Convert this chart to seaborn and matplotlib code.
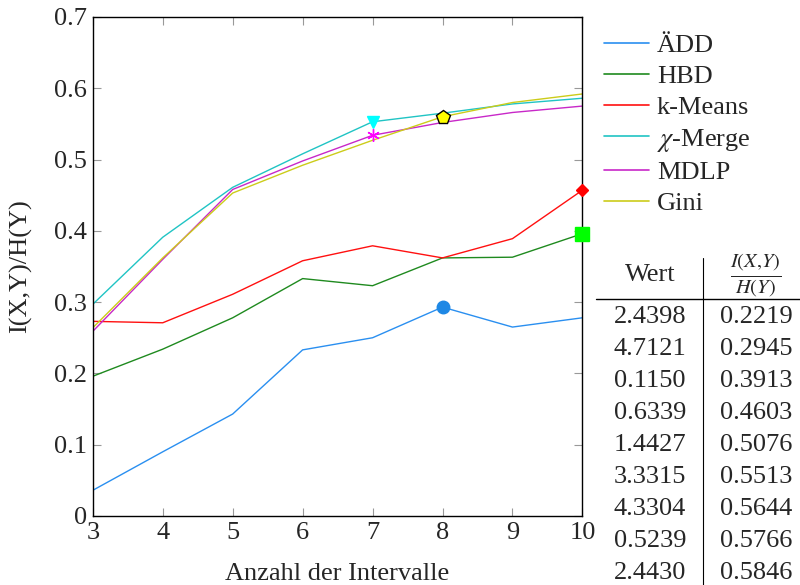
import numpy as np
import pandas as pd
import seaborn as sns
import matplotlib.pyplot as plt
from matplotlib.lines import Line2D

# data
intervals = [3, 4, 5, 6, 7, 8, 9, 10]
methods = ["ÄDD", "HBD", "k-Means", r"$\chi$-Merge", "MDLP", "Gini"]
add_vals = [0.036, 0.090, 0.143, 0.233, 0.250, 0.293, 0.265, 0.278]
hbd_vals = [0.196, 0.234, 0.278, 0.333, 0.323, 0.362, 0.363, 0.396]
kmeans_vals = [0.273, 0.271, 0.311, 0.358, 0.379, 0.362, 0.389, 0.457]
chi_vals = [0.297, 0.391, 0.461, 0.508, 0.553, 0.565, 0.578, 0.586]
mdlp_vals = [0.259, 0.360, 0.458, 0.498, 0.534, 0.552, 0.566, 0.575]
gini_vals = [0.264, 0.362, 0.453, 0.492, 0.527, 0.560, 0.580, 0.592]

# best point of each method (x position)
best_x = [8, 10, 10, 7, 7, 8]

# table on the right
wert = ["2.4398", "4.7121", "0.1150", "0.6339", "1.4427", "3.3315", "4.3304", "0.5239", "2.4430"]
ratio = ["0.2219", "0.2945", "0.3913", "0.4603", "0.5076", "0.5513", "0.5644", "0.5766", "0.5846"]

line_colors = ["#2a8ff0", "#1f8a1f", "#ff1010", "#20c4c4", "#c828c8", "#cccc1a"]
mark_colors = ["#1e88e5", "#00ff00", "#ff0000", "#00ffff", "#ff00ff", "#ffff00"]
mark_styles = ["o", "s", "D", "v", "*", "p"]

all_vals = [add_vals, hbd_vals, kmeans_vals, chi_vals, mdlp_vals, gini_vals]
df = pd.DataFrame({
    "x": intervals * len(methods),
    "y": sum(all_vals, []),
    "method": sum([[m] * len(intervals) for m in methods], []),
})

sns.set_style("ticks")
plt.rcParams["font.family"] = ["Liberation Serif", "DejaVu Serif"]
plt.rcParams["mathtext.fontset"] = "stix"
FS = 19

fig = plt.figure(figsize=(8, 5.85), dpi=100)
ax = fig.add_axes([0.116, 0.118, 0.612, 0.853])

sns.lineplot(data=df, x="x", y="y", hue="method", palette=dict(zip(methods, line_colors)),
             linewidth=1.0, ax=ax, legend=False)

# highlight markers
for m, bx, mc, ms in zip(methods, best_x, mark_colors, mark_styles):
    pt = df[(df.method == m) & (df.x == bx)]
    if ms == "*":
        ax.plot(pt.x, pt.y, marker=(6, 2, 0), color=mc, markersize=9, mew=1.0, linestyle="none", clip_on=False, zorder=5)
    else:
        ec = "black" if ms == "p" else mc
        size = {"o": 9, "s": 10, "D": 6, "v": 8, "p": 10}[ms]
        ax.plot(pt.x, pt.y, marker=ms, color=mc, markeredgecolor=ec, markersize=size, mew=1.0,
                linestyle="none", clip_on=False, zorder=5)

ax.set_xlim(3, 10)
ax.set_ylim(0, 0.7)
ax.set_xticks(intervals)
ax.set_yticks(np.arange(0, 0.71, 0.1))
ax.set_yticklabels(["0"] + ["%.1f" % v for v in np.arange(0.1, 0.71, 0.1)])
ax.tick_params(direction="in", top=True, right=True, length=6, color="#999999", labelsize=FS, pad=4)
for s in ax.spines.values():
    s.set_color("black")
    s.set_linewidth(1.0)
ax.set_xlabel("Anzahl der Intervalle", fontsize=FS, labelpad=14)
ax.set_ylabel("I(X,Y)/H(Y)", fontsize=FS, labelpad=16)

handles = [Line2D([0], [0], color=c, lw=1.2) for c in line_colors]
fig.legend(handles, methods, loc="upper left", bbox_to_anchor=(0.742, 0.96), frameon=False,
           prop={"family": ["Liberation Serif", "DejaVu Serif"], "size": FS},
           handlelength=1.7, handletextpad=0.3, labelspacing=0.28, borderaxespad=0)

# table
col1_x, col2_x = 0.8125, 0.945
fig.text(col1_x, 1 - 275 / 585, "Wert", ha="center", va="center", fontsize=FS)
fig.text(col2_x, 1 - 276 / 585, r"$\frac{I(X{,}Y)}{H(Y)}$", ha="center", va="center", fontsize=FS + 2)
row_y = [317 + 32 * i for i in range(len(wert))]
for y, a, b in zip(row_y, wert, ratio):
    fig.text(col1_x, 1 - y / 585, a, ha="center", va="center", fontsize=FS)
    fig.text(col2_x, 1 - y / 585, b, ha="center", va="center", fontsize=FS)
fig.add_artist(Line2D([596 / 800, 1.0], [1 - 299 / 585] * 2, color="black", lw=1.0))
fig.add_artist(Line2D([703 / 800] * 2, [1 - 258 / 585, 0.0], color="black", lw=0.8))

fig.savefig("out.png", dpi=100)
